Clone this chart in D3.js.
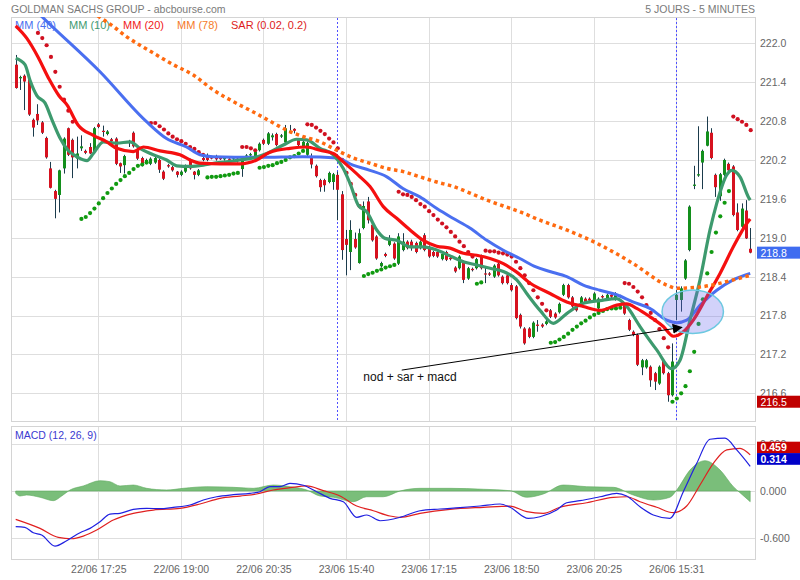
<!DOCTYPE html>
<html><head><meta charset="utf-8">
<script src="https://cdn.jsdelivr.net/npm/d3@7"></script>
<style>
html,body{margin:0;padding:0;background:#fff;}
svg{display:block;}
</style></head><body>
<svg id="chart" width="800" height="580"></svg>
<script>
// ---------------- DATA ----------------
const title = "GOLDMAN SACHS GROUP - abcbourse.com";
const subtitle = "5 JOURS - 5 MINUTES";
const timeTickIdx = [19, 38, 57, 76, 95, 114, 133, 152];
const timeLabels = ["22/06 17:25","22/06 19:00","22/06 20:35","23/06 15:40","23/06 17:15","23/06 18:50","23/06 20:25","26/06 15:31"];
const dayStartIdx = [74, 152];
const priceTicks = [216.6, 217.2, 217.8, 218.4, 219.0, 219.6, 220.2, 220.8, 221.4, 222.0];
const macdTicks = [-0.6, 0, 0.6];

const open = [
221.67,221.46,221.50,221.45,220.82,220.91,220.78,220.54,220.07,219.72,
219.66,220.07,220.69,220.51,220.22,220.38,220.34,220.40,220.33,220.75,
220.65,220.60,220.52,220.53,220.15,220.12,220.48,220.62,220.37,220.23,
220.18,220.14,220.16,220.20,220.02,220.12,220.09,220.02,219.97,220.02,
220.20,220.02,219.97,220.23,220.27,220.24,220.26,220.23,220.21,220.22,
220.22,220.22,220.06,220.25,220.27,220.24,220.35,220.51,220.45,220.55,
220.60,220.56,220.47,220.64,220.68,220.51,220.40,220.28,220.23,220.11,
219.89,219.89,219.86,219.86,219.97,219.67,218.98,218.78,218.98,218.61,
219.15,219.56,219.20,219.02,218.56,218.75,218.89,218.91,218.60,218.81,
218.94,218.94,218.92,218.84,219.04,218.86,218.78,218.78,218.67,218.78,
218.69,218.54,218.53,218.63,218.37,218.52,218.53,218.72,218.45,218.45,
218.40,218.60,218.40,218.42,218.27,218.25,217.81,217.60,217.60,217.47,
217.66,217.66,217.67,217.88,217.83,217.85,218.12,218.27,218.08,217.96,
217.98,218.06,218.06,218.04,217.91,218.10,218.05,218.12,218.05,218.09,
217.96,217.73,217.55,217.50,217.00,217.00,217.01,216.91,216.75,217.11,
216.91,216.57,218.04,218.04,218.37,218.81,219.80,219.96,220.16,220.42,
220.62,219.97,219.64,219.97,220.14,220.10,219.39,219.17,219.42,218.83];
const high = [
221.82,221.50,221.52,221.48,220.84,221.06,220.80,220.56,220.17,219.74,
220.05,220.55,220.70,220.53,220.56,220.58,220.36,220.46,220.71,220.77,
220.73,220.66,220.54,220.55,220.16,220.28,220.51,220.64,220.39,220.25,
220.22,220.24,220.25,220.22,220.04,220.14,220.11,220.03,220.04,220.13,
220.22,220.03,220.06,220.25,220.30,220.26,220.28,220.25,220.25,220.24,
220.26,220.24,220.22,220.29,220.31,220.35,220.47,220.53,220.63,220.61,
220.62,220.60,220.74,220.74,220.69,220.53,220.50,220.48,220.30,220.13,
219.91,219.91,220.02,220.00,220.02,219.72,219.12,219.27,219.08,219.14,
219.56,219.63,219.22,219.04,218.63,218.77,219.04,218.93,219.07,219.07,
218.96,218.97,218.94,218.96,219.07,218.88,218.80,218.80,218.77,218.80,
218.71,218.56,218.73,218.65,218.55,218.54,218.69,218.74,218.54,218.47,
218.59,218.62,218.42,218.44,218.30,218.27,217.83,217.62,217.62,217.71,
217.73,217.68,217.73,217.90,217.85,218.00,218.29,218.29,218.10,217.98,
218.10,218.08,218.08,218.16,218.08,218.12,218.14,218.14,218.16,218.12,
217.98,217.75,217.57,217.52,217.13,217.13,217.03,216.93,217.03,217.13,
216.93,217.37,218.19,218.25,218.67,219.50,220.11,220.72,220.36,220.87,
220.69,219.99,220.00,220.22,220.16,220.12,219.53,219.53,219.58,219.15];
const low = [
221.30,221.28,220.97,220.88,220.56,220.74,220.60,220.22,219.76,219.30,
219.39,219.99,220.26,219.92,220.07,220.34,220.29,220.29,220.30,220.69,
220.56,220.58,220.47,220.12,220.00,219.99,220.40,220.39,220.20,220.10,
220.16,220.12,220.14,220.00,219.89,220.08,220.02,219.93,219.95,220.00,
220.05,219.90,219.95,220.18,220.18,220.21,220.19,220.20,220.19,220.19,
220.20,220.16,219.94,220.23,220.25,220.22,220.33,220.43,220.43,220.50,
220.41,220.54,220.45,220.61,220.61,220.41,220.38,220.26,220.07,219.93,
219.71,219.71,219.84,219.74,219.27,218.66,218.42,218.50,218.83,218.60,
219.13,219.22,218.94,218.66,218.54,218.70,218.87,218.66,218.58,218.79,
218.82,218.80,218.76,218.82,218.79,218.69,218.70,218.69,218.65,218.64,
218.65,218.46,218.51,218.30,218.35,218.48,218.51,218.51,218.30,218.41,
218.38,218.40,218.28,218.28,218.17,217.74,217.60,217.35,217.45,217.45,
217.55,217.61,217.65,217.76,217.75,217.83,218.10,218.06,217.92,217.86,
217.96,217.99,218.01,218.02,217.89,218.06,218.03,218.07,218.03,218.07,
217.81,217.56,217.48,217.02,216.88,216.98,216.70,216.65,216.73,216.89,
216.47,216.55,217.73,217.86,218.35,218.79,219.75,219.94,219.75,220.41,
220.21,219.63,219.57,219.95,220.02,219.33,219.10,219.15,218.98,218.76];
const close = [
221.31,221.48,221.41,220.90,220.70,220.81,220.62,220.24,219.77,219.60,
220.04,220.53,220.28,220.24,220.30,220.41,220.31,220.30,220.69,220.71,
220.64,220.64,220.49,220.14,220.10,220.26,220.46,220.41,220.22,220.14,
220.20,220.22,220.23,220.05,219.91,220.10,220.04,219.97,220.02,220.11,
220.07,219.97,220.04,220.20,220.20,220.23,220.21,220.22,220.23,220.21,
220.24,220.18,220.20,220.27,220.29,220.33,220.45,220.45,220.61,220.58,
220.43,220.58,220.69,220.65,220.65,220.43,220.48,220.46,220.13,219.95,
219.78,219.81,220.00,219.98,219.74,218.81,218.89,219.12,218.85,219.07,
219.49,219.27,218.96,218.68,218.61,218.72,218.98,218.68,219.02,218.94,
218.84,218.84,218.78,218.94,218.81,218.71,218.72,218.71,218.75,218.66,
218.67,218.48,218.71,218.35,218.53,218.50,218.67,218.53,218.44,218.43,
218.57,218.42,218.30,218.30,218.19,217.76,217.63,217.37,217.47,217.69,
217.64,217.63,217.71,217.78,217.77,217.98,218.27,218.08,217.94,217.88,
218.08,218.01,218.03,218.14,218.06,218.08,218.12,218.09,218.14,218.10,
217.83,217.58,217.50,217.04,217.11,217.11,216.80,216.78,217.01,216.91,
216.57,217.09,218.12,218.22,218.65,219.48,219.82,219.98,220.34,220.64,
220.23,219.78,219.98,220.20,220.04,219.35,219.12,219.45,218.99,218.77];

// Parabolic SAR (0.02, 0.2), one value per candle (null = not shown)
const sar = [
null,null,null,null,null,222.16,222.08,221.97,221.79,221.56,
221.33,221.13,220.96,220.79,null,219.29,219.32,219.38,219.45,219.53,
219.61,219.69,219.76,219.83,219.89,219.95,220.00,220.06,220.11,220.13,
220.16,220.77,220.77,220.72,220.67,220.61,220.56,220.52,220.49,220.45,
220.40,220.37,220.32,220.28,219.93,219.94,219.94,219.95,219.96,219.97,
219.99,220.00,220.40,220.40,220.38,220.35,220.08,220.09,220.11,220.12,
220.15,220.17,220.20,220.24,220.26,220.30,220.34,220.75,220.74,220.70,
220.65,220.60,220.53,220.47,220.38,220.20,220.00,219.83,219.66,219.49,
218.41,218.44,218.46,218.49,218.51,218.54,218.56,218.58,219.71,219.67,
219.66,219.63,219.58,219.52,219.48,219.41,219.35,219.28,219.22,219.16,
219.09,219.02,218.94,218.87,218.78,218.71,218.29,218.31,218.80,218.79,
218.79,218.77,218.76,218.74,218.71,218.63,218.53,218.42,218.30,218.19,
218.08,217.98,217.88,217.38,217.39,217.43,217.47,217.52,217.58,217.63,
217.68,217.72,217.77,217.81,217.84,217.87,217.90,217.91,217.91,217.92,
218.30,218.29,218.24,218.17,218.08,217.96,217.84,217.73,217.59,217.45,
217.31,216.47,216.52,216.60,216.71,216.94,217.24,217.67,218.05,218.45,
218.78,219.08,219.33,219.54,219.72,220.87,220.83,220.79,220.74,220.66];

// Moving averages: [candle index, value]
const mm40 = [[0,222.82],[6.05,222.41],[19.4,221.56],[30.1,220.79],[34.7,220.53],[39.3,220.40],[42.4,220.28],[45.4,220.25],[56.2,220.24],[66.1,220.25],[73.9,220.23],[77.6,220.12],[81.5,220.04],[85.4,219.94],[89.1,219.76],[93,219.63],[96.9,219.45],[100.6,219.30],[104.5,219.15],[108.4,218.96],[112.1,218.81],[116,218.68],[119.7,218.55],[122.9,218.48],[126.8,218.40],[130.6,218.27],[134.4,218.19],[138.3,218.12],[142,218.01],[145.9,217.91],[149.8,217.73],[152.1,217.69],[154.4,217.73],[157.5,217.96],[161.3,218.19],[165.1,218.35],[169,218.45]];
const mm10 = [[0,221.77],[2.14,221.67],[3.29,221.43],[4.9,221.19],[6.74,221.08],[8.35,220.82],[10.19,220.54],[12.03,220.35],[14.1,220.25],[16.4,220.19],[17.86,220.30],[20.16,220.48],[23.24,220.46],[26.3,220.48],[28.6,220.38],[31.66,220.28],[34.74,220.20],[37.05,220.11],[40.1,220.10],[43.17,220.12],[45.47,220.15],[48.55,220.17],[51.61,220.20],[54.67,220.23],[57.75,220.30],[61.57,220.43],[64.66,220.52],[66.96,220.51],[70.02,220.38],[73.08,220.28],[75.38,220.07],[76.92,219.84],[78.83,219.50],[80.76,219.40],[83.07,219.12],[84.98,218.99],[87.67,218.96],[90.73,218.86],[93.79,218.86],[96.87,218.81],[99.94,218.72],[103,218.63],[106.07,218.58],[109.14,218.53],[112.2,218.48],[115.28,218.35],[117.58,218.14],[120.64,217.88],[123.7,217.68],[126.78,217.83],[130.6,217.99],[134.44,218.03],[138.29,218.06],[140.59,217.94],[143.65,217.63],[147.49,217.27],[150.94,216.98],[152.85,217.11],[155.15,217.73],[157.45,218.35],[159.75,219.12],[161.3,219.53],[163.6,219.97],[164.75,220.04],[166.66,219.94],[168.57,219.63],[169,219.58]];
const mm20 = [[0,222.27],[2.53,222.08],[5.13,221.79],[7.66,221.45],[9.96,221.19],[11.8,221.05],[14.34,220.74],[17.86,220.58],[20.94,220.48],[23.24,220.38],[27.06,220.33],[29.36,220.40],[33.2,220.34],[37.8,220.28],[40.1,220.20],[42.4,220.15],[47,220.14],[51.61,220.14],[55.45,220.20],[58.5,220.32],[63.12,220.38],[66.96,220.40],[70.02,220.35],[73.08,220.30],[75.38,220.17],[79.22,219.94],[81.52,219.79],[84.58,219.48],[87.67,219.30],[90.73,219.12],[93.79,218.96],[96.87,218.87],[99.94,218.84],[103,218.76],[106.07,218.73],[109.14,218.68],[112.2,218.60],[115.28,218.47],[118.57,218.29],[122.94,218.14],[126.78,218.01],[130.6,217.94],[134.44,217.88],[138.29,217.96],[140.59,217.98],[142.89,217.91],[145.95,217.78],[149.01,217.63],[151.31,217.48],[153.61,217.55],[155.91,217.73],[159,218.09],[162.06,218.45],[165.12,218.86],[168.2,219.22],[169,219.29]];
const mm78 = [[0,223.25],[19.4,222.40],[22.46,222.26],[25.54,222.10],[28.6,221.97],[31.66,221.85],[36.26,221.67],[40.87,221.51],[45.47,221.28],[50.07,221.10],[54.67,220.94],[58.51,220.80],[62.36,220.66],[66.18,220.56],[70.02,220.48],[73.86,220.35],[77.68,220.23],[81.52,220.15],[85.37,220.07],[89.18,220.02],[93,219.94],[96.87,219.86],[100.69,219.79],[104.53,219.69],[108.38,219.58],[112.2,219.49],[116.03,219.40],[120.64,219.27],[126.78,219.12],[134.44,218.89],[142.1,218.60],[149.8,218.27],[152.1,218.22],[157.45,218.24],[165.12,218.35],[169,218.42]];

// MACD (12, 26, 9): [candle index, value]
const macdLine = [[0,-0.454],[2.1,-0.462],[4.05,-0.531],[5.98,-0.560],[9.04,-0.700],[11.73,-0.632],[14.8,-0.531],[17.1,-0.475],[19.4,-0.391],[21.7,-0.293],[24,-0.284],[27.06,-0.233],[30.14,-0.220],[33.2,-0.225],[36.26,-0.207],[40.1,-0.178],[43.17,-0.115],[46.25,-0.073],[50.07,-0.047],[53.9,-0.029],[56.2,-0.009],[58.5,0.055],[60.8,0.055],[63.1,0.098],[66.18,0.073],[69.26,-0.009],[72.32,-0.093],[75.38,-0.136],[78.46,-0.335],[80.76,-0.305],[83.83,-0.378],[88.43,-0.335],[93.03,-0.251],[97.63,-0.229],[102.24,-0.212],[106.84,-0.191],[111.44,-0.165],[113.74,-0.207],[117.95,-0.347],[120.64,-0.327],[124.48,-0.242],[126.78,-0.149],[129.84,-0.123],[134.44,-0.073],[138.29,-0.029],[140.59,-0.064],[143.65,-0.200],[146.71,-0.305],[150.53,-0.347],[153.61,-0.009],[156.7,0.352],[159.75,0.658],[163.2,0.671],[165.9,0.522],[169,0.314]];
const signalLine = [[0,-0.360],[5.6,-0.475],[9.8,-0.589],[12.89,-0.607],[15.55,-0.573],[18.64,-0.496],[22.46,-0.369],[27.06,-0.284],[31.66,-0.242],[37.8,-0.220],[42.4,-0.165],[47,-0.093],[51.61,-0.064],[55.45,-0.038],[59.27,0.013],[63.12,0.042],[66.96,0.064],[70.78,0.004],[74.62,-0.064],[78.46,-0.191],[82.28,-0.251],[86.11,-0.318],[88.43,-0.335],[93.03,-0.284],[99.93,-0.233],[107.6,-0.207],[113.74,-0.191],[117.58,-0.263],[121.4,-0.284],[125.24,-0.207],[131.39,-0.149],[137.51,-0.080],[140.59,-0.073],[143.65,-0.136],[147.49,-0.207],[151.31,-0.276],[154.39,-0.191],[157.45,0.076],[160.52,0.352],[163.6,0.522],[166.66,0.543],[169,0.459]];
const histogram = [[0,-0.03],[1,-0.064],[2.5,-0.051],[5.6,-0.080],[8.65,-0.123],[10.58,-0.064],[12.5,0.013],[15.55,0.064],[19.4,0.131],[21.7,0.118],[24,0.064],[27.06,0.076],[30.14,0.034],[34.74,0.013],[38.56,0.034],[43.95,0.055],[50.07,0.047],[54.67,0.034],[59.27,0.076],[63.12,0.055],[66.96,0.013],[70.02,-0.064],[73.08,-0.080],[77.68,-0.136],[80.76,-0.073],[84.58,-0.073],[88.43,0],[93.03,0.034],[99.93,0.034],[107.6,0.022],[113.74,0.004],[117.58,-0.080],[121.4,-0.038],[126,0.076],[131.39,0.055],[137.51,0.047],[142.1,-0.051],[146.71,-0.115],[150.53,-0.080],[152.1,0.013],[155.15,0.267],[158.6,0.385],[162.06,0.267],[165.12,0.055],[166.66,-0.022],[169,-0.136]];

const legendItems = [
  {label:"MM (40)", color:"#4a6ff0"},
  {label:"MM (10)", color:"#3f9a70"},
  {label:"MM (20)", color:"#f02020"},
  {label:"MM (78)", color:"#f57a2a"},
  {label:"SAR (0.02, 0.2)", color:"#dd1c1c"}
];
const annotation = {text:"nod + sar + macd", at:[79.98,216.79], from:[88.82,216.958], to:[153.25,217.617]};
const highlight = {center:[155.78,217.858], rIdx:7.06, rPrice:0.335};

// ---------------- LAYOUT ----------------
const FONT = '"Liberation Sans", Arial, Helvetica, sans-serif';
const P = {l:11, r:755, t:17, b:421};
const M = {t:426, b:559};
const svg = d3.select("#chart").attr("font-family", FONT);
svg.append("rect").attr("width",800).attr("height",580).attr("fill","#fff");

const x = d3.scaleLinear().domain([0, open.length-1]).range([15.7, 750.2]);
const y = d3.scaleLinear().domain([216.6, 222.0]).range([393.3, 43.3]);
const ym = d3.scaleLinear().domain([-0.6, 0.6]).range([538.2, 443.8]);

const defs = svg.append("defs");
defs.append("clipPath").attr("id","clipMain").append("rect")
  .attr("x",P.l).attr("y",P.t).attr("width",P.r-P.l).attr("height",P.b-P.t);
defs.append("clipPath").attr("id","clipMacd").append("rect")
  .attr("x",P.l).attr("y",M.t).attr("width",P.r-P.l).attr("height",M.b-M.t);
defs.append("marker").attr("id","arrow").attr("viewBox","0 0 10 10")
  .attr("refX",9).attr("refY",5).attr("markerWidth",10).attr("markerHeight",12)
  .attr("markerUnits","userSpaceOnUse").attr("orient","auto")
  .append("path").attr("d","M0,0 L10,5 L0,10 Z").attr("fill","#000");

// header
svg.append("text").attr("x",11).attr("y",12.5).attr("font-size",10.5).attr("fill","#7a7a7a").text(title);
svg.append("text").attr("x",755).attr("y",12.5).attr("font-size",10.5).attr("fill","#7a7a7a")
  .attr("text-anchor","end").text(subtitle);

const GRID = "#dedede";
// --- main panel grid
const gGrid = svg.append("g");
gGrid.selectAll("line.h").data(priceTicks).join("line")
  .attr("x1",P.l).attr("x2",P.r).attr("y1",d=>Math.round(y(d))+0.5).attr("y2",d=>Math.round(y(d))+0.5)
  .attr("stroke",GRID);
gGrid.selectAll("line.v").data(timeTickIdx).join("line")
  .attr("x1",d=>Math.round(x(d))+0.5).attr("x2",d=>Math.round(x(d))+0.5).attr("y1",P.t).attr("y2",P.b)
  .attr("stroke",GRID);
// --- macd grid
gGrid.selectAll("line.mh").data(macdTicks).join("line")
  .attr("x1",P.l).attr("x2",P.r).attr("y1",d=>Math.round(ym(d))+0.5).attr("y2",d=>Math.round(ym(d))+0.5)
  .attr("stroke",GRID);
gGrid.selectAll("line.mv").data(timeTickIdx).join("line")
  .attr("x1",d=>Math.round(x(d))+0.5).attr("x2",d=>Math.round(x(d))+0.5).attr("y1",M.t).attr("y2",M.b)
  .attr("stroke",GRID);
// frames
[[P.t,P.b],[M.t,M.b]].forEach(([t,b])=>{
  svg.append("rect").attr("x",P.l+0.5).attr("y",t+0.5).attr("width",P.r-P.l).attr("height",b-t)
    .attr("fill","none").attr("stroke","#d4d4d4");
});

// day separators
svg.append("g").selectAll("line").data(dayStartIdx).join("line")
  .attr("x1",d=>Math.round(x(d))+0.5).attr("x2",d=>Math.round(x(d))+0.5).attr("y1",P.t+1).attr("y2",P.b)
  .attr("stroke","#5050ff").attr("stroke-dasharray","2,2");

// legend (under the lines)
const gLeg = svg.append("g");
gLeg.selectAll("text").data(legendItems).join("text")
  .attr("x",(d,i)=>15+i*54).attr("y",29).attr("font-size",11).attr("fill",d=>d.color).text(d=>d.label);

// --- main plot
const gMain = svg.append("g").attr("clip-path","url(#clipMain)");
const candles = d3.range(open.length).map(i=>({i,o:open[i],h:high[i],l:low[i],c:close[i]}));
gMain.append("g").selectAll("line").data(candles).join("line")
  .attr("x1",d=>Math.round(x(d.i))+0.5).attr("x2",d=>Math.round(x(d.i))+0.5)
  .attr("y1",d=>y(d.h)).attr("y2",d=>y(d.l)).attr("stroke","#1b3b4c").attr("stroke-width",1);
gMain.append("g").selectAll("rect").data(candles).join("rect")
  .attr("x",d=>Math.round(x(d.i))-1).attr("width",3)
  .attr("y",d=>y(Math.max(d.o,d.c)))
  .attr("height",d=>Math.max(1.2,Math.abs(y(d.o)-y(d.c))))
  .attr("fill",d=>d.c>=d.o?"#138f1c":"#d6121f");

// SAR
const sarPts = sar.map((v,i)=>({i,v})).filter(d=>d.v!==null);
gMain.append("g").selectAll("circle").data(sarPts).join("circle")
  .attr("cx",d=>x(d.i)+0.5).attr("cy",d=>y(d.v)).attr("r",2.1)
  .attr("fill",d=> d.v > (high[d.i]+low[d.i])/2 ? "#d01020" : "#109a10");

const lineGen = d3.line().x(d=>x(d[0])).y(d=>y(d[1])).curve(d3.curveMonotoneX);
gMain.append("path").attr("d",lineGen(mm40)).attr("fill","none").attr("stroke","#4a6ff0").attr("stroke-width",3);
gMain.append("path").attr("d",lineGen(mm10)).attr("fill","none").attr("stroke","#3d9a6e").attr("stroke-width",3.2);
gMain.append("path").attr("d",lineGen(mm20)).attr("fill","none").attr("stroke","#f50f0f").attr("stroke-width",3.2);
gMain.append("path").attr("d",lineGen(mm78)).attr("fill","none").attr("stroke","#ff6a10").attr("stroke-width",3.5)
  .attr("stroke-dasharray","3.5,3.5");

// highlight ellipse
gMain.append("ellipse")
  .attr("cx",x(highlight.center[0])).attr("cy",y(highlight.center[1]))
  .attr("rx",x(highlight.rIdx)-x(0)).attr("ry",y(highlight.center[1]-highlight.rPrice)-y(highlight.center[1]))
  .attr("fill","#6a6af0").attr("fill-opacity",0.3).attr("stroke","#6cc8e0").attr("stroke-width",1.5);

// annotation
svg.append("line")
  .attr("x1",x(annotation.from[0])).attr("y1",y(annotation.from[1]))
  .attr("x2",x(annotation.to[0])).attr("y2",y(annotation.to[1]))
  .attr("stroke","#000").attr("stroke-width",1).attr("marker-end","url(#arrow)");
svg.append("text").attr("x",x(annotation.at[0])).attr("y",y(annotation.at[1]))
  .attr("font-size",12).attr("fill","#111").text(annotation.text);

// right price axis
const yAxis = d3.axisRight(y).tickValues(priceTicks).tickSize(0).tickPadding(5).tickFormat(d3.format(".1f"));
const gY = svg.append("g").attr("transform",`translate(${P.r},0)`).call(yAxis);
gY.select(".domain").attr("stroke","#d4d4d4");
gY.selectAll("text").attr("font-size",10.5).attr("fill","#666").attr("font-family",FONT);

// price labels
const lastClose = close[close.length-1];
const minLow = d3.min(low);
const priceBoxes = [{v:lastClose, fill:"#3f6cf0"}, {v:minLow, fill:"#c00000"}];
const gPB = svg.append("g");
priceBoxes.forEach(b=>{
  const cy = y(b.v);
  gPB.append("rect").attr("x",757).attr("y",cy-6).attr("width",43).attr("height",12).attr("fill",b.fill);
  gPB.append("text").attr("x",760.5).attr("y",cy+4).attr("font-size",10.5).attr("fill","#fff").text(b.v.toFixed(1));
});

// --- MACD panel
svg.append("text").attr("x",15).attr("y",439).attr("font-size",10.5).attr("fill","#3a3ad0").text("MACD (12, 26, 9)");
const gM = svg.append("g").attr("clip-path","url(#clipMacd)");
const areaGen = d3.area().x(d=>x(d[0])).y0(ym(0)).y1(d=>ym(d[1])).curve(d3.curveMonotoneX);
gM.append("path").attr("d",areaGen(histogram)).attr("fill","#73bb73").attr("fill-opacity",0.95)
  .attr("stroke","#5aa85a").attr("stroke-width",0.6);
const mline = d3.line().x(d=>x(d[0])).y(d=>ym(d[1])).curve(d3.curveMonotoneX);
gM.append("path").attr("d",mline(signalLine)).attr("fill","none").attr("stroke","#e02020").attr("stroke-width",1.2);
gM.append("path").attr("d",mline(macdLine)).attr("fill","none").attr("stroke","#2020e0").attr("stroke-width",1.2);

const mAxis = d3.axisRight(ym).tickValues(macdTicks).tickSize(0).tickPadding(5).tickFormat(d3.format(".3f"));
const gMA = svg.append("g").attr("transform",`translate(${P.r},0)`).call(mAxis);
gMA.select(".domain").attr("stroke","#d4d4d4");
gMA.selectAll("text").attr("font-size",10.5).attr("fill","#666").attr("font-family",FONT)
  .text(d=>d3.format(".3f")(d).replace("−","-"));

// MACD value boxes
const lastSignal = signalLine[signalLine.length-1][1];
const lastMacd = macdLine[macdLine.length-1][1];
const mBoxes = [{v:lastSignal, fill:"#c80000"}, {v:lastMacd, fill:"#0000c8"}];
mBoxes.forEach(b=>{
  const bottom = ym(b.v) - 1.5;
  svg.append("rect").attr("x",757).attr("y",bottom-11.7).attr("width",43).attr("height",11.7).attr("fill",b.fill);
  svg.append("text").attr("x",760.5).attr("y",bottom-2).attr("font-size",10.5).attr("font-weight","bold")
    .attr("fill","#fff").text(b.v.toFixed(3));
});

// bottom time axis
const xAxis = d3.axisBottom(x).tickValues(timeTickIdx).tickSize(0).tickPadding(7)
  .tickFormat((d,i)=>timeLabels[i]);
const gX = svg.append("g").attr("transform",`translate(0,${M.b})`).call(xAxis);
gX.select(".domain").remove();
gX.selectAll("text").attr("font-size",10.5).attr("fill","#666").attr("font-family",FONT);
</script>
</body></html>
